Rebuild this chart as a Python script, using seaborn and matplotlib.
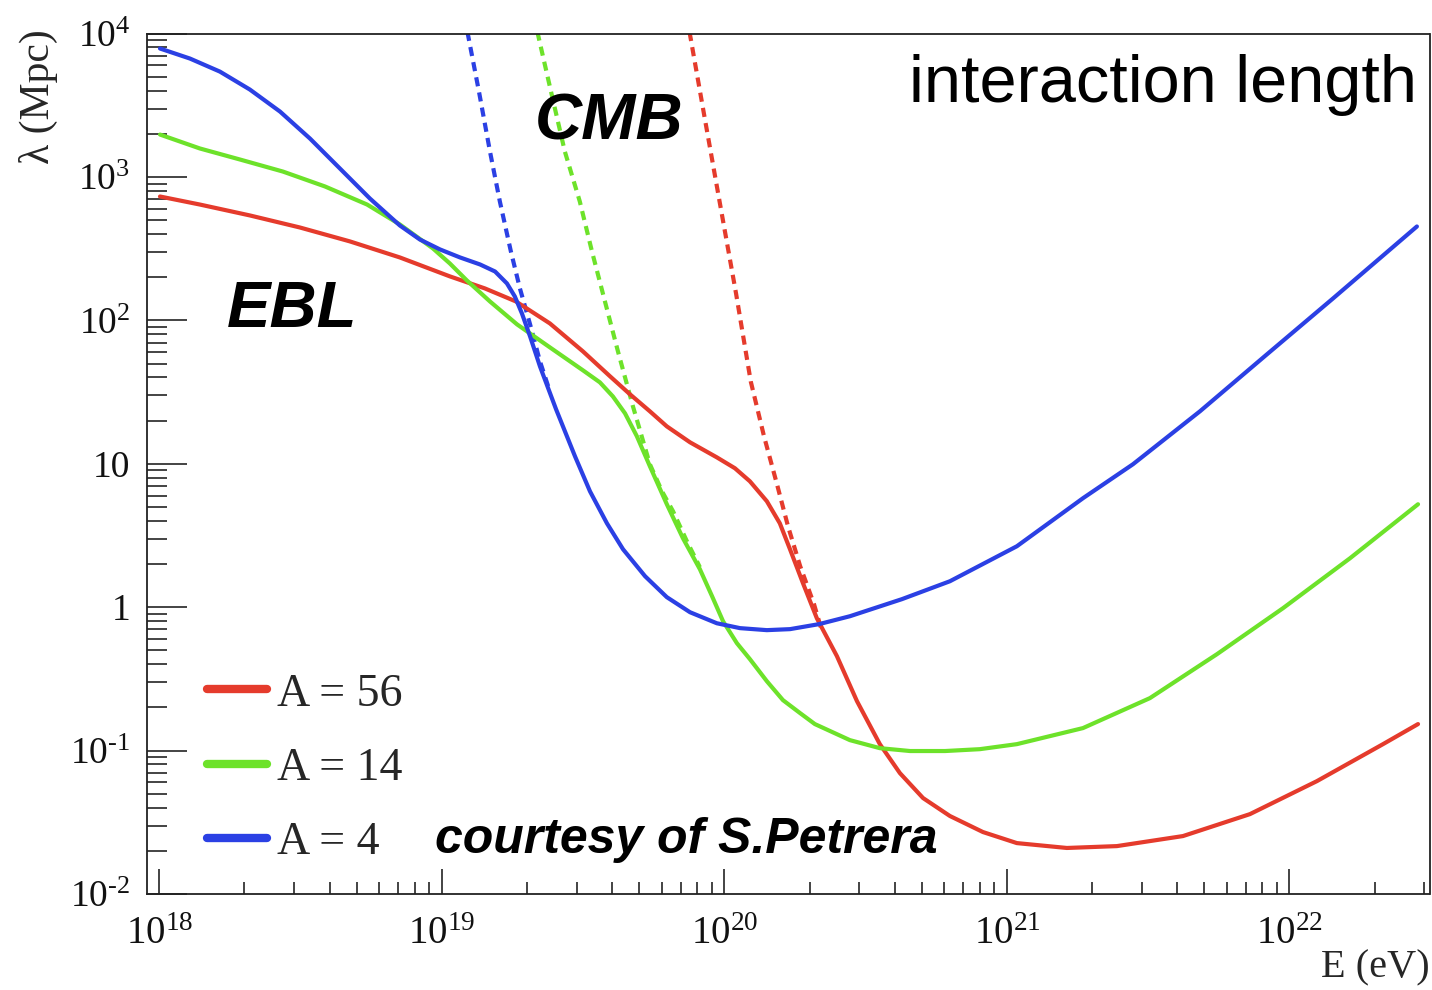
import matplotlib
matplotlib.use("Agg")
import numpy as np
import pandas as pd
import seaborn as sns
import matplotlib.pyplot as plt
from matplotlib.ticker import LogLocator, NullFormatter

# ---- data: log10 of energy E (eV) and of interaction length lambda (Mpc) ----
# total interaction length (EBL + CMB), solid curves
logE_fe = [18.002, 18.143, 18.320, 18.497, 18.674, 18.851, 19.028, 19.152, 19.262,
           19.382, 19.499, 19.595, 19.666, 19.736, 19.796, 19.878, 19.973, 20.037,
           20.090, 20.150, 20.196, 20.232, 20.278, 20.327, 20.398, 20.469, 20.550,
           20.621, 20.703, 20.798, 20.915, 21.035, 21.212, 21.389, 21.623, 21.860,
           22.097, 22.331, 22.455]
loglam_fe = [2.864, 2.808, 2.732, 2.648, 2.551, 2.439, 2.307, 2.223, 2.132,
             1.979, 1.784, 1.610, 1.484, 1.366, 1.261, 1.150, 1.045, 0.969,
             0.878, 0.739, 0.585, 0.404, 0.167, -0.077, -0.341, -0.655, -0.955,
             -1.157, -1.331, -1.456, -1.568, -1.645, -1.679, -1.666, -1.596, -1.443,
             -1.213, -0.955, -0.815]

logE_n = [18.002, 18.143, 18.285, 18.437, 18.586, 18.735, 18.851, 18.968, 19.028,
          19.088, 19.170, 19.266, 19.382, 19.499, 19.559, 19.605, 19.648, 19.690,
          19.736, 19.796, 19.853, 19.913, 19.956, 19.995, 20.044, 20.090, 20.150,
          20.207, 20.268, 20.320, 20.444, 20.550, 20.657, 20.781, 20.904, 21.035,
          21.269, 21.506, 21.743, 21.977, 22.214, 22.455]
loglam_n = [3.296, 3.199, 3.122, 3.038, 2.934, 2.808, 2.669, 2.502, 2.397,
            2.279, 2.132, 1.972, 1.812, 1.652, 1.568, 1.470, 1.352, 1.192,
            0.983, 0.718, 0.481, 0.265, 0.077, -0.098, -0.251, -0.362, -0.516,
            -0.648, -0.739, -0.815, -0.927, -0.983, -1.003, -1.003, -0.990, -0.955,
            -0.843, -0.634, -0.328, -0.007, 0.341, 0.718]

logE_he = [18.002, 18.108, 18.214, 18.320, 18.427, 18.533, 18.639, 18.745, 18.851,
           18.922, 18.993, 19.064, 19.135, 19.188, 19.230, 19.258, 19.283, 19.312,
           19.347, 19.404, 19.471, 19.524, 19.584, 19.641, 19.719, 19.796, 19.878,
           19.973, 20.055, 20.150, 20.232, 20.335, 20.444, 20.628, 20.798, 21.035,
           21.269, 21.446, 21.683, 21.920, 22.154, 22.451]
loglam_he = [3.896, 3.826, 3.735, 3.610, 3.456, 3.268, 3.059, 2.850, 2.662,
             2.564, 2.495, 2.439, 2.390, 2.341, 2.258, 2.167, 2.049, 1.888,
             1.679, 1.380, 1.052, 0.808, 0.585, 0.404, 0.216, 0.070, -0.035,
             -0.112, -0.146, -0.160, -0.153, -0.118, -0.063, 0.056, 0.181, 0.425,
             0.760, 0.997, 1.366, 1.763, 2.153, 2.655]

# CMB-only interaction length, dotted curves
logE_fe_cmb = [19.857, 19.878, 19.931, 19.984, 20.041, 20.093, 20.140, 20.186,
               20.225, 20.268, 20.317, 20.345]
loglam_fe_cmb = [4.223, 3.993, 3.401, 2.815, 2.188, 1.575, 1.192, 0.857,
                 0.564, 0.286, 0.021, -0.167]

logE_n_cmb = [19.313, 19.340, 19.386, 19.435, 19.488, 19.531, 19.577, 19.623,
              19.676, 19.736, 19.779, 19.818, 19.867, 19.913]
loglam_n_cmb = [4.223, 3.993, 3.596, 3.178, 2.829, 2.481, 2.132, 1.784,
                1.401, 0.997, 0.808, 0.669, 0.460, 0.279]

logE_he_cmb = [19.069, 19.092, 19.131, 19.170, 19.205, 19.244, 19.276, 19.312,
               19.347, 19.382]
loglam_he_cmb = [4.223, 3.993, 3.596, 3.178, 2.829, 2.481, 2.223, 1.972,
                 1.714, 1.505]

species = ["A = 56", "A = 14", "A = 4"]
colors = ["#E53B2C", "#6DE22A", "#2B40E4"]

x_ticks = [1e18, 1e19, 1e20, 1e21, 1e22]
x_tick_labels = [r"$10^{18}$", r"$10^{19}$", r"$10^{20}$", r"$10^{21}$", r"$10^{22}$"]
y_ticks = [1e-2, 1e-1, 1, 10, 1e2, 1e3, 1e4]
y_tick_labels = ["$10^{\u2010" + "2}$", "$10^{\u2010" + "1}$", "1", "10",
                 r"$10^{2}$", r"$10^{3}$", r"$10^{4}$"]

# ---- tidy frames ----
def frame(logE, loglam, name):
    return pd.DataFrame({"E": np.power(10.0, logE),
                         "lam": np.power(10.0, loglam),
                         "species": name})

total = pd.concat([frame(logE_fe, loglam_fe, species[0]),
                   frame(logE_n, loglam_n, species[1]),
                   frame(logE_he, loglam_he, species[2])], ignore_index=True)
cmb = pd.concat([frame(logE_fe_cmb, loglam_fe_cmb, species[0]),
                 frame(logE_n_cmb, loglam_n_cmb, species[1]),
                 frame(logE_he_cmb, loglam_he_cmb, species[2])], ignore_index=True)

sns.set_theme(style="white")
plt.rcParams["mathtext.fontset"] = "custom"
plt.rcParams["mathtext.rm"] = "Liberation Serif"
plt.rcParams["mathtext.it"] = "Liberation Serif:italic"
plt.rcParams["font.family"] = ["Liberation Serif", "DejaVu Serif"]

W, H = 1432, 990
fig = plt.figure(figsize=(W / 100, H / 100), dpi=100)
ax = fig.add_axes([147 / W, 96 / H, (1429.5 - 147) / W, (894 - 33.6) / H])

palette = dict(zip(species, colors))
sns.lineplot(data=cmb, x="E", y="lam", hue="species", hue_order=species,
             palette=palette, estimator=None, sort=False, units="species",
             linewidth=3.0, linestyle=(0, (2.2, 1.5)), legend=False, ax=ax)
sns.lineplot(data=total, x="E", y="lam", hue="species", hue_order=species,
             palette=palette, estimator=None, sort=False, units="species",
             linewidth=3.0, ax=ax)

ax.set_xscale("log")
ax.set_yscale("log")
ax.set_xlim(10 ** 17.956, 10 ** 22.4956)
ax.set_ylim(1e-2, 1e4)

ax.set_xticks(x_ticks, labels=x_tick_labels)
ax.set_yticks(y_ticks, labels=y_tick_labels)
ax.xaxis.set_minor_locator(LogLocator(base=10, subs=range(2, 10), numticks=100))
ax.yaxis.set_minor_locator(LogLocator(base=10, subs=range(2, 10), numticks=100))
ax.xaxis.set_minor_formatter(NullFormatter())
ax.yaxis.set_minor_formatter(NullFormatter())

ax.tick_params(axis="both", which="both", direction="in", colors="#111111",
               bottom=True, left=True, top=False, right=False, width=1.1)
ax.tick_params(axis="y", which="major", length=29, pad=12, labelsize=27)
ax.tick_params(axis="y", which="minor", length=14.5)
ax.tick_params(axis="x", which="major", length=18, pad=16, labelsize=28)
ax.tick_params(axis="x", which="minor", length=9)
for s in ax.spines.values():
    s.set_visible(True)
    s.set_color("#222222")
    s.set_linewidth(1.3)

ax.set_xlabel("")
ax.set_ylabel("")
fig.text(1430 / W, 1 - 968 / H, "E (eV)", ha="right", va="center", fontsize=29)
fig.text(38 / W, 1 - 97 / H, "λ (Mpc)", ha="center", va="center",
         rotation=90, fontsize=30)

# legend without frame, thick handles
handles, labels = ax.get_legend_handles_labels()
leg = ax.legend(handles, labels, loc="upper left",
                bbox_to_anchor=(207 / W, 1 - 673 / H), bbox_transform=fig.transFigure,
                frameon=False, fontsize=33, borderpad=0, borderaxespad=0,
                handlelength=1.31, handletextpad=0.22, labelspacing=0.69)
for ln in leg.get_lines():
    ln.set_linewidth(6)

# annotations
sans = ["Liberation Sans", "DejaVu Sans"]
fig.text(1417 / W, 1 - 102 / H, "interaction length", ha="right", va="baseline",
         fontsize=48, family=sans, color="black")
fig.text(535 / W, 1 - 140 / H, "CMB", ha="left", va="baseline", fontsize=47,
         family=sans, weight="bold", style="italic", color="black")
fig.text(227 / W, 1 - 327 / H, "EBL", ha="left", va="baseline", fontsize=47,
         family=sans, weight="bold", style="italic", color="black")
fig.text(435 / W, 1 - 853 / H, "courtesy of S.Petrera", ha="left", va="baseline",
         fontsize=36, family=sans, weight="bold", style="italic", color="black")

fig.savefig("out.png", dpi=100, facecolor="white")
